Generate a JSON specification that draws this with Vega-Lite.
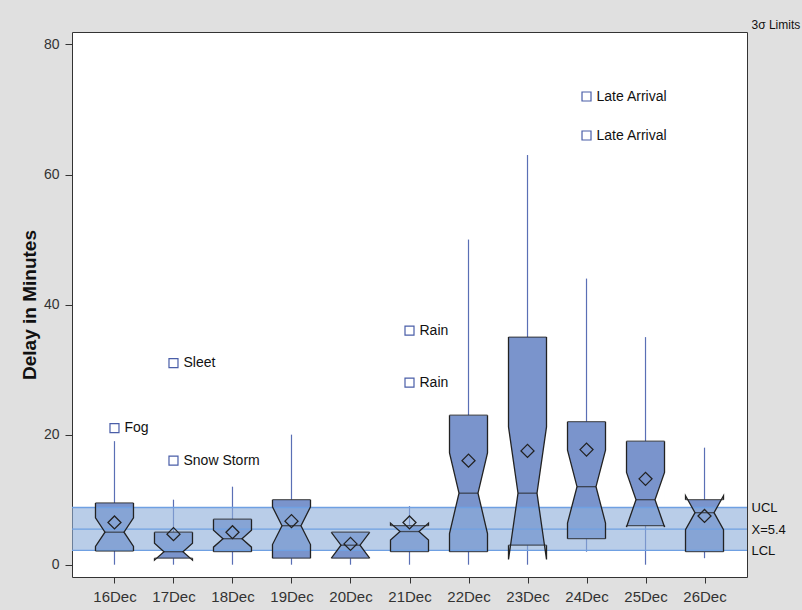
{
  "$schema": "https://vega.github.io/schema/vega-lite/v6.json",
  "width": 675,
  "height": 545,
  "autosize": {"type": "none"},
  "padding": {"left": 72, "top": 32, "right": 55, "bottom": 33},
  "background": "#e0e0e0",
  "config": {
    "font": "Liberation Sans",
    "view": {"fill": "#ffffff", "stroke": "#333333", "strokeWidth": 1}
  },
  "datasets": {
    "boxes": [
      {"day": "16Dec", "min": 0, "q1": 2.1, "nlo": 2.8, "med": 5, "nhi": 7.2, "q3": 9.5, "max": 19, "mean": 6.5},
      {"day": "17Dec", "min": 0, "q1": 1, "nlo": 0.7, "med": 2, "nhi": 3.3, "q3": 5, "max": 10, "mean": 4.7},
      {"day": "18Dec", "min": 0, "q1": 2, "nlo": 2.7, "med": 4, "nhi": 5.3, "q3": 7, "max": 12, "mean": 5},
      {"day": "19Dec", "min": 0, "q1": 1, "nlo": 3.1, "med": 6, "nhi": 8.9, "q3": 10, "max": 20, "mean": 6.7},
      {"day": "20Dec", "min": 0, "q1": 1, "nlo": 1.05, "med": 3, "nhi": 4.95, "q3": 5, "max": 5, "mean": 3.2},
      {"day": "21Dec", "min": 0, "q1": 2, "nlo": 3.8, "med": 5.1, "nhi": 6.4, "q3": 6, "max": 9, "mean": 6.5},
      {"day": "22Dec", "min": 0, "q1": 2, "nlo": 4.8, "med": 11, "nhi": 17.2, "q3": 23, "max": 50, "mean": 16},
      {"day": "23Dec", "min": 0, "q1": 3, "nlo": 0.8, "med": 11, "nhi": 21.2, "q3": 35, "max": 63, "mean": 17.5},
      {"day": "24Dec", "min": 2, "q1": 4, "nlo": 6.4, "med": 12, "nhi": 17.6, "q3": 22, "max": 44, "mean": 17.7},
      {"day": "25Dec", "min": 0, "q1": 6, "nlo": 5.8, "med": 10, "nhi": 14.2, "q3": 19, "max": 35, "mean": 13.2},
      {"day": "26Dec", "min": 1, "q1": 2, "nlo": 5.4, "med": 8, "nhi": 10.6, "q3": 10, "max": 18, "mean": 7.5}
    ],
    "outline": [
      {"stat": "q1", "left": "L", "right": "R", "ord": 1},
      {"stat": "nlo", "left": "L", "right": "R", "ord": 2},
      {"stat": "med", "left": "Lm", "right": "Rm", "ord": 3},
      {"stat": "nhi", "left": "L", "right": "R", "ord": 4},
      {"stat": "q3", "left": "L", "right": "R", "ord": 5}
    ],
    "outliers": [
      {"day": "16Dec", "delay": 21, "reason": "Fog"},
      {"day": "17Dec", "delay": 31, "reason": "Sleet"},
      {"day": "17Dec", "delay": 16, "reason": "Snow Storm"},
      {"day": "21Dec", "delay": 36, "reason": "Rain"},
      {"day": "21Dec", "delay": 28, "reason": "Rain"},
      {"day": "24Dec", "delay": 72, "reason": "Late Arrival"},
      {"day": "24Dec", "delay": 66, "reason": "Late Arrival"}
    ],
    "limits": [{"lcl": 2.2, "center": 5.48, "ucl": 8.8}]
  },
  "resolve": {"axis": {"y": "independent"}},
  "layer": [
    {
      "data": {"name": "boxes"},
      "mark": {"type": "rule", "color": "#5a6fb5", "strokeWidth": 1.2},
      "encoding": {
        "x": {"field": "day", "type": "ordinal", "title": null,
          "scale": {"type": "point", "domain": ["16Dec","17Dec","18Dec","19Dec","20Dec","21Dec","22Dec","23Dec","24Dec","25Dec","26Dec"], "padding": 0.72},
          "axis": {"domain": false, "grid": false, "tickSize": 6, "tickColor": "#333333", "labelFontSize": 15, "labelColor": "#333333", "labelPadding": 6, "labelAngle": 0}},
        "y": {"field": "q3", "type": "quantitative", "scale": {"domain": [-1.89, 81.92], "nice": false, "zero": false}, "axis": null},
        "y2": {"field": "max"}
      }
    },
    {
      "data": {"name": "boxes"},
      "mark": {"type": "rule", "color": "#5a6fb5", "strokeWidth": 1.2},
      "encoding": {
        "x": {"field": "day", "type": "ordinal", "title": null,
          "scale": {"type": "point", "domain": ["16Dec","17Dec","18Dec","19Dec","20Dec","21Dec","22Dec","23Dec","24Dec","25Dec","26Dec"], "padding": 0.72},
          "axis": {"domain": false, "grid": false, "tickSize": 6, "tickColor": "#333333", "labelFontSize": 15, "labelColor": "#333333", "labelPadding": 6, "labelAngle": 0}},
        "y": {"field": "min", "type": "quantitative", "scale": {"domain": [-1.89, 81.92], "nice": false, "zero": false}, "axis": null},
        "y2": {"field": "q1"}
      }
    },
    {
      "data": {"name": "boxes"},
      "mark": {"type": "bar", "color": "#7a94cc", "size": 37, "opacity": 1},
      "encoding": {
        "x": {"field": "day", "type": "ordinal", "title": null,
          "scale": {"type": "point", "domain": ["16Dec","17Dec","18Dec","19Dec","20Dec","21Dec","22Dec","23Dec","24Dec","25Dec","26Dec"], "padding": 0.72},
          "axis": {"domain": false, "grid": false, "tickSize": 6, "tickColor": "#333333", "labelFontSize": 15, "labelColor": "#333333", "labelPadding": 6, "labelAngle": 0}},
        "y": {"field": "q1", "type": "quantitative", "scale": {"domain": [-1.89, 81.92], "nice": false, "zero": false}, "axis": null},
        "y2": {"field": "q3"}
      }
    },
    {
      "data": {"name": "boxes"},
      "transform": [
        {"fold": ["q1", "nlo", "med", "nhi", "q3"], "as": ["stat", "value"]},
        {"lookup": "stat", "from": {"data": {"name": "outline"}, "key": "stat", "fields": ["left", "right", "ord"]}}
      ],
      "layer": [
        {
          "mark": {"type": "line", "color": "#ffffff", "fill": "#ffffff", "strokeWidth": 0, "strokeOpacity": 0},
          "encoding": {
            "x": {"field": "day", "type": "ordinal", "title": null,
              "scale": {"type": "point", "domain": ["16Dec","17Dec","18Dec","19Dec","20Dec","21Dec","22Dec","23Dec","24Dec","25Dec","26Dec"], "padding": 0.72},
              "axis": {"domain": false, "grid": false, "tickSize": 6, "tickColor": "#333333", "labelFontSize": 15, "labelColor": "#333333", "labelPadding": 6, "labelAngle": 0}},
            "xOffset": {"field": "left", "type": "nominal", "scale": {"type": "point", "domain": ["L", "Lm", "C", "Rm", "R"], "range": [-19, 19], "padding": 0}},
            "y": {"field": "value", "type": "quantitative", "scale": {"domain": [-1.89, 81.92], "nice": false, "zero": false}, "axis": null},
            "order": {"field": "ord", "type": "quantitative"},
            "detail": {"field": "day"}
          }
        },
        {
          "mark": {"type": "line", "color": "#ffffff", "fill": "#ffffff", "strokeWidth": 0, "strokeOpacity": 0},
          "encoding": {
            "x": {"field": "day", "type": "ordinal", "title": null,
              "scale": {"type": "point", "domain": ["16Dec","17Dec","18Dec","19Dec","20Dec","21Dec","22Dec","23Dec","24Dec","25Dec","26Dec"], "padding": 0.72},
              "axis": {"domain": false, "grid": false, "tickSize": 6, "tickColor": "#333333", "labelFontSize": 15, "labelColor": "#333333", "labelPadding": 6, "labelAngle": 0}},
            "xOffset": {"field": "right", "type": "nominal", "scale": {"type": "point", "domain": ["L", "Lm", "C", "Rm", "R"], "range": [-19, 19], "padding": 0}},
            "y": {"field": "value", "type": "quantitative", "scale": {"domain": [-1.89, 81.92], "nice": false, "zero": false}, "axis": null},
            "order": {"field": "ord", "type": "quantitative"},
            "detail": {"field": "day"}
          }
        }
      ]
    },
    {
      "data": {"name": "limits"},
      "mark": {"type": "rect", "color": "#8eaeda", "opacity": 0.62},
      "encoding": {
        "y": {"field": "ucl", "type": "quantitative", "scale": {"domain": [-1.89, 81.92], "nice": false, "zero": false},
          "axis": {"orient": "left", "title": "Delay in Minutes", "values": [0, 20, 40, 60, 80], "format": "d", "grid": false, "domain": false, "tickSize": 7, "tickColor": "#333333", "labelFontSize": 14, "labelColor": "#333333", "labelPadding": 6, "titleFontSize": 19, "titleFontWeight": "bold", "titleColor": "#111111", "titlePadding": 4}},
        "y2": {"field": "lcl"}
      }
    },
    {
      "data": {"name": "limits"},
      "transform": [{"fold": ["ucl", "center", "lcl"], "as": ["limit", "value"]}],
      "mark": {"type": "rule", "color": "#6fa0e2", "strokeWidth": 1.3},
      "encoding": {
        "y": {"field": "value", "type": "quantitative", "scale": {"domain": [-1.89, 81.92], "nice": false, "zero": false},
          "axis": {"orient": "right", "values": [8.8, 5.48, 2.2], "labelExpr": "datum.value > 8 ? 'UCL' : datum.value > 4 ? 'X=5.4' : 'LCL'", "labelOverlap": false, "ticks": false, "domain": false, "grid": false, "labelPadding": 4, "labelFontSize": 13, "labelColor": "#111111", "labelBaseline": "middle",
            "title": "3σ Limits", "titleAngle": 0, "titleAlign": "left", "titleBaseline": "bottom", "titleX": 4, "titleY": -1, "titleFontSize": 12, "titleFontWeight": "normal", "titleColor": "#111111"}}
      }
    },
    {
      "data": {"name": "boxes"},
      "transform": [
        {"fold": ["q1", "nlo", "med", "nhi", "q3"], "as": ["stat", "value"]},
        {"lookup": "stat", "from": {"data": {"name": "outline"}, "key": "stat", "fields": ["left", "right", "ord"]}}
      ],
      "layer": [
        {
          "mark": {"type": "line", "color": "#222222", "strokeWidth": 1.3},
          "encoding": {
            "x": {"field": "day", "type": "ordinal", "title": null,
              "scale": {"type": "point", "domain": ["16Dec","17Dec","18Dec","19Dec","20Dec","21Dec","22Dec","23Dec","24Dec","25Dec","26Dec"], "padding": 0.72},
              "axis": {"domain": false, "grid": false, "tickSize": 6, "tickColor": "#333333", "labelFontSize": 15, "labelColor": "#333333", "labelPadding": 6, "labelAngle": 0}},
            "xOffset": {"field": "left", "type": "nominal", "scale": {"type": "point", "domain": ["L", "Lm", "C", "Rm", "R"], "range": [-19, 19], "padding": 0}},
            "y": {"field": "value", "type": "quantitative", "scale": {"domain": [-1.89, 81.92], "nice": false, "zero": false}, "axis": null},
            "order": {"field": "ord", "type": "quantitative"},
            "detail": {"field": "day"}
          }
        },
        {
          "mark": {"type": "line", "color": "#222222", "strokeWidth": 1.3},
          "encoding": {
            "x": {"field": "day", "type": "ordinal", "title": null,
              "scale": {"type": "point", "domain": ["16Dec","17Dec","18Dec","19Dec","20Dec","21Dec","22Dec","23Dec","24Dec","25Dec","26Dec"], "padding": 0.72},
              "axis": {"domain": false, "grid": false, "tickSize": 6, "tickColor": "#333333", "labelFontSize": 15, "labelColor": "#333333", "labelPadding": 6, "labelAngle": 0}},
            "xOffset": {"field": "right", "type": "nominal", "scale": {"type": "point", "domain": ["L", "Lm", "C", "Rm", "R"], "range": [-19, 19], "padding": 0}},
            "y": {"field": "value", "type": "quantitative", "scale": {"domain": [-1.89, 81.92], "nice": false, "zero": false}, "axis": null},
            "order": {"field": "ord", "type": "quantitative"},
            "detail": {"field": "day"}
          }
        }
      ]
    },
    {
      "data": {"name": "boxes"},
      "transform": [{"fold": ["q1", "q3"], "as": ["edge", "value"]}],
      "mark": {"type": "tick", "color": "#222222", "size": 38, "thickness": 1.3},
      "encoding": {
        "x": {"field": "day", "type": "ordinal", "title": null,
          "scale": {"type": "point", "domain": ["16Dec","17Dec","18Dec","19Dec","20Dec","21Dec","22Dec","23Dec","24Dec","25Dec","26Dec"], "padding": 0.72},
          "axis": {"domain": false, "grid": false, "tickSize": 6, "tickColor": "#333333", "labelFontSize": 15, "labelColor": "#333333", "labelPadding": 6, "labelAngle": 0}},
        "y": {"field": "value", "type": "quantitative", "scale": {"domain": [-1.89, 81.92], "nice": false, "zero": false}, "axis": null}
      }
    },
    {
      "data": {"name": "boxes"},
      "mark": {"type": "tick", "color": "#222222", "size": 19, "thickness": 1.3},
      "encoding": {
        "x": {"field": "day", "type": "ordinal", "title": null,
          "scale": {"type": "point", "domain": ["16Dec","17Dec","18Dec","19Dec","20Dec","21Dec","22Dec","23Dec","24Dec","25Dec","26Dec"], "padding": 0.72},
          "axis": {"domain": false, "grid": false, "tickSize": 6, "tickColor": "#333333", "labelFontSize": 15, "labelColor": "#333333", "labelPadding": 6, "labelAngle": 0}},
        "y": {"field": "med", "type": "quantitative", "scale": {"domain": [-1.89, 81.92], "nice": false, "zero": false}, "axis": null}
      }
    },
    {
      "data": {"name": "boxes"},
      "mark": {"type": "point", "shape": "diamond", "size": 169, "filled": false, "color": "#222222", "strokeWidth": 1.3, "opacity": 1},
      "encoding": {
        "x": {"field": "day", "type": "ordinal", "title": null,
          "scale": {"type": "point", "domain": ["16Dec","17Dec","18Dec","19Dec","20Dec","21Dec","22Dec","23Dec","24Dec","25Dec","26Dec"], "padding": 0.72},
          "axis": {"domain": false, "grid": false, "tickSize": 6, "tickColor": "#333333", "labelFontSize": 15, "labelColor": "#333333", "labelPadding": 6, "labelAngle": 0}},
        "y": {"field": "mean", "type": "quantitative", "scale": {"domain": [-1.89, 81.92], "nice": false, "zero": false}, "axis": null}
      }
    },
    {
      "data": {"name": "outliers"},
      "layer": [
        {
          "mark": {"type": "point", "shape": "square", "size": 81, "filled": false, "color": "#4a5ea8", "strokeWidth": 1.2, "opacity": 1},
          "encoding": {
            "x": {"field": "day", "type": "ordinal", "title": null,
              "scale": {"type": "point", "domain": ["16Dec","17Dec","18Dec","19Dec","20Dec","21Dec","22Dec","23Dec","24Dec","25Dec","26Dec"], "padding": 0.72},
              "axis": {"domain": false, "grid": false, "tickSize": 6, "tickColor": "#333333", "labelFontSize": 15, "labelColor": "#333333", "labelPadding": 6, "labelAngle": 0}},
            "y": {"field": "delay", "type": "quantitative", "scale": {"domain": [-1.89, 81.92], "nice": false, "zero": false}, "axis": null}
          }
        },
        {
          "mark": {"type": "text", "align": "left", "baseline": "middle", "dx": 10, "fontSize": 14, "color": "#111111"},
          "encoding": {
            "x": {"field": "day", "type": "ordinal", "title": null,
              "scale": {"type": "point", "domain": ["16Dec","17Dec","18Dec","19Dec","20Dec","21Dec","22Dec","23Dec","24Dec","25Dec","26Dec"], "padding": 0.72},
              "axis": {"domain": false, "grid": false, "tickSize": 6, "tickColor": "#333333", "labelFontSize": 15, "labelColor": "#333333", "labelPadding": 6, "labelAngle": 0}},
            "y": {"field": "delay", "type": "quantitative", "scale": {"domain": [-1.89, 81.92], "nice": false, "zero": false}, "axis": null},
            "text": {"field": "reason"}
          }
        }
      ]
    }
  ]
}
